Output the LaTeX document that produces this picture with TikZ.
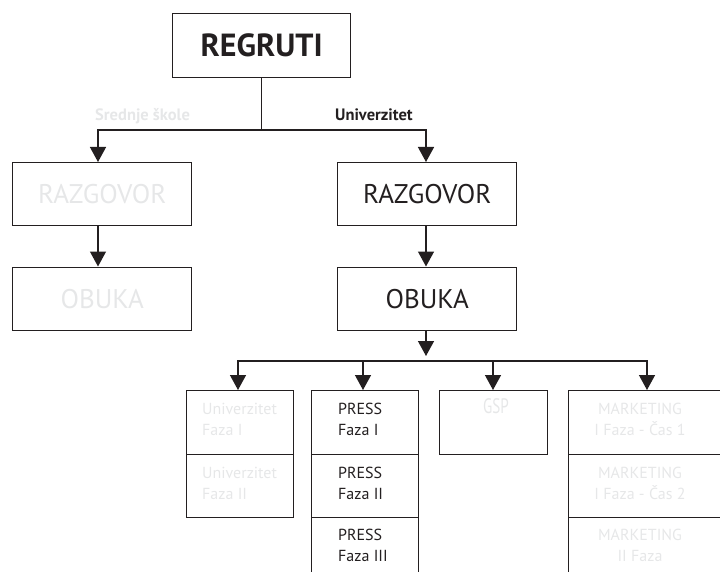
\documentclass[tikz,border=0pt]{standalone}
\usepackage{fontspec}
\setmainfont{PT Sans}
\newfontfamily\narrowfont[FakeStretch=0.72]{PT Sans}
\usetikzlibrary{arrows.meta}
\definecolor{ink}{HTML}{231F20}
\definecolor{faint}{HTML}{E6E7E8}
\begin{document}
\begin{tikzpicture}[x=1pt,y=-1pt,
  box/.style={draw=ink, line width=1.4pt, anchor=north west, inner sep=0pt},
  big/.style={box, minimum width=179pt, minimum height=63pt, font=\fontsize{27}{30}\selectfont},
  cell/.style={box, minimum width=107pt, minimum height=63.5pt},
  widecell/.style={box, minimum width=190pt, minimum height=63.5pt},
  celltext/.style={anchor=north west, inner sep=0pt, align=left, font=\fontsize{16}{21}\selectfont},
  mktext/.style={anchor=north, inner sep=0pt, align=center, text=faint, font=\fontsize{16}{21}\selectfont},
  branch/.style={inner sep=0pt, anchor=base west, font=\bfseries\fontsize{16.5}{18}\selectfont},
  link/.style={draw=ink, line width=1.4pt},
  arr/.style={link, -{Triangle[width=16pt,length=15pt]}},
]
\useasboundingbox (0,0) rectangle (720,572);
\clip (0,0) rectangle (720,572);

% top level
\node[box, minimum width=178pt, minimum height=64pt,
      font=\bfseries\fontsize{32}{36}\selectfont, text=ink] (reg) at (172,13) {REGRUTI};

% branch labels
\node[branch, text=faint] (lblS) at (95,121) {Srednje škole};
\node[branch, text=ink] (lblU) at (335,121) {Univerzitet};

% second and third levels
\node[big, text=faint] (razL) at (12,162) {RAZGOVOR};
\node[big, text=ink]   (razR) at (337,162) {RAZGOVOR};
\node[big, text=faint] (obL)  at (12,266.5) {OBUKA};
\node[big, text=ink]   (obR)  at (337,266.5) {OBUKA};

% training tracks
\node[cell] (u1) at (186,390) {};
\node[cell] (u2) at (186,453.5) {};
\node[cell] (p1) at (311,390) {};
\node[cell] (p2) at (311,453.5) {};
\node[cell] (p3) at (311,517) {};
\node[cell, minimum width=108pt] (g1) at (439,390) {};
\node[widecell] (m1) at (568,390) {};
\node[widecell] (m2) at (568,453.5) {};
\node[widecell] (m3) at (568,517) {};

\node[celltext, text=faint] (tu1) at ([shift={(16,13)}]u1.north west) {Univerzitet\\Faza I};
\node[celltext, text=faint] (tu2) at ([shift={(16,13)}]u2.north west) {Univerzitet\\Faza II};
\node[celltext, text=ink] (tp1) at ([shift={(27,13)}]p1.north west) {PRESS\\Faza I};
\node[celltext, text=ink] (tp2) at ([shift={(27,13)}]p2.north west) {PRESS\\Faza II};
\node[celltext, text=ink] (tp3) at ([shift={(27,12)}]p3.north west) {PRESS\\Faza III};
\node[inner sep=0pt, anchor=north, text=faint, font=\narrowfont\fontsize{21}{24}\selectfont]
  (tg1) at ([shift={(57,8)}]g1.north west) {GSP};
\node[mktext] (tm1) at ([shift={(72,13)}]m1.north west) {MARKETING\\I Faza - Čas 1};
\node[mktext] (tm2) at ([shift={(72,13)}]m2.north west) {MARKETING\\I Faza - Čas 2};
\node[mktext] (tm3) at ([shift={(72,12)}]m3.north west) {MARKETING\\II Faza};

% connectors
\coordinate (jl) at (98,130);
\coordinate (jr) at (426,130);
\draw[arr] (reg.south) |- (jl) -- (jl |- razL.north);
\draw[arr] (reg.south) |- (jr) -- (jr |- razR.north);
\draw[arr] (razL.south -| jl) -- (jl |- obL.north);
\draw[arr] (razR.south -| jr) -- (jr |- obR.north);

\coordinate (tip) at (426,356);
\draw[arr] (obR.south -| jr) -- (tip);

\coordinate (bmid) at (426,361);
\coordinate (bu) at (238,361);
\coordinate (bp) at (363,361);
\coordinate (bg) at (493,361);
\coordinate (bm) at (647,361);
\draw[arr] (bmid) -| (bu |- u1.north);
\draw[arr] (bmid) -| (bp |- p1.north);
\draw[arr] (bmid) -| (bg |- g1.north);
\draw[arr] (bmid) -| (bm |- m1.north);
\end{tikzpicture}
\end{document}
